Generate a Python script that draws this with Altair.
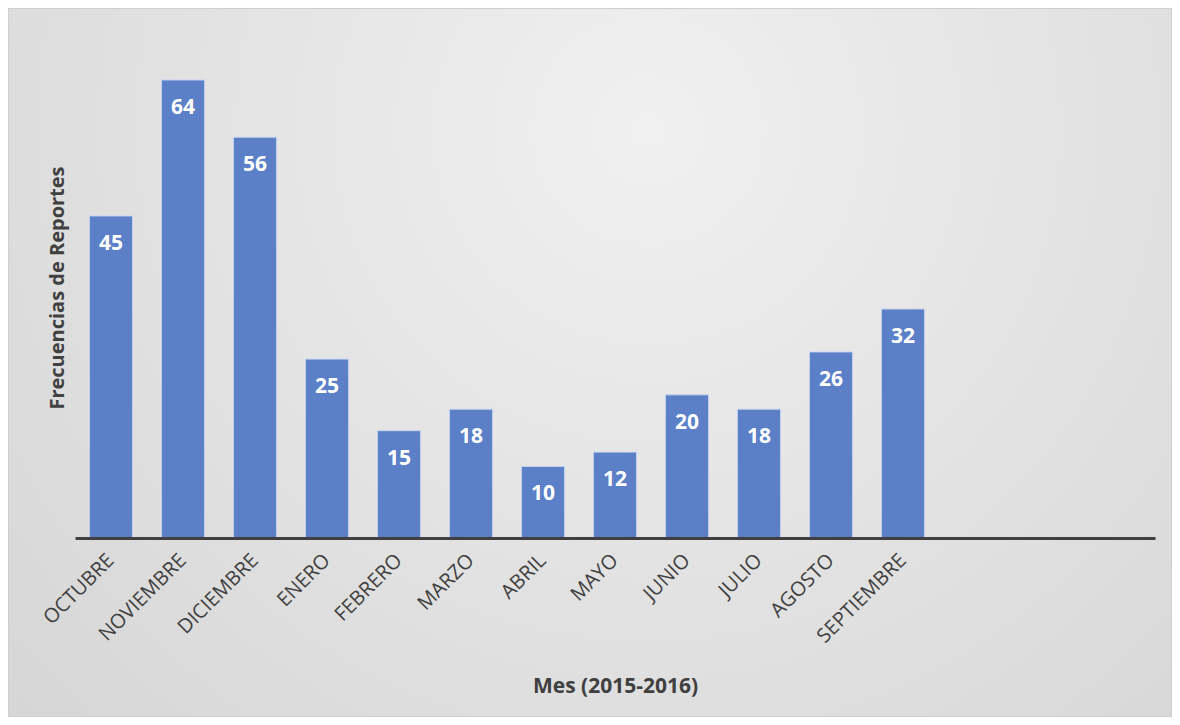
import altair as alt
import pandas as pd

months = ["OCTUBRE", "NOVIEMBRE", "DICIEMBRE", "ENERO", "FEBRERO", "MARZO",
          "ABRIL", "MAYO", "JUNIO", "JULIO", "AGOSTO", "SEPTIEMBRE"]
values = [45, 64, 56, 25, 15, 18, 10, 12, 20, 18, 26, 32]
empty_slots = [" ", "  ", "   "]

df = pd.DataFrame({"mes": months, "freq": values})
domain = months + empty_slots

W, H = 1080, 501
PAD = {"left": 67, "top": 29, "right": 17, "bottom": 179}
FONT = "Open Sans"
TXT = "#404040"

bg = alt.Chart(alt.Data(values=[{"a": 1}])).mark_rect(
    clip=False,
    fill=alt.RadialGradient(
        gradient="radial",
        x1=0.55, y1=0.3, x2=0.55, y2=0.3, r1=0, r2=0.85,
        stops=[alt.GradientStop(offset=0, color="#f0f0f0"),
               alt.GradientStop(offset=1, color="#d2d2d2")],
    ),
    stroke="#cfcfcf", strokeWidth=1,
).encode(
    x=alt.value(-PAD["left"] + 0.5), x2=alt.value(W + PAD["right"] - 0.5),
    y=alt.value(-PAD["top"] + 0.5), y2=alt.value(H + PAD["bottom"] - 0.5),
)

x_enc = alt.X(
    "mes:N", sort=domain,
    scale=alt.Scale(domain=domain, paddingInner=0.4, paddingOuter=0.2),
    axis=alt.Axis(
        title="Mes (2015-2016)", titleFont=FONT, titleFontSize=21, titleFontWeight="bold",
        titleColor=TXT, titleY=148, titleBaseline="middle",
        labelAngle=-45, labelAlign="right", labelBaseline="middle", labelPadding=19,
        labelFont=FONT, labelFontSize=20, labelColor=TXT,
        ticks=False, domainColor="#404040", domainWidth=3, grid=False, zindex=1,
    ),
)
y_enc = alt.Y(
    "freq:Q", scale=alt.Scale(domain=[0, 70], nice=False),
    axis=alt.Axis(
        title="Frecuencias de Reportes", titleFont=FONT, titleFontSize=20,
        titleFontWeight="bold", titleColor=TXT, titleX=-18, titleY=H / 2,
        titleAngle=-90, titleAlign="center", titleBaseline="middle",
        labels=False, ticks=False, domain=False, grid=False, zindex=1,
    ),
)

bars = alt.Chart(df).mark_bar(color="#5b80c8", stroke="#c9d5ee", strokeWidth=1).encode(
    x=x_enc, y=y_enc
)
labels = alt.Chart(df).mark_text(
    color="white", font=FONT, fontSize=21, fontWeight="bold", baseline="middle", dy=28
).encode(x=alt.X("mes:N", sort=domain), y="freq:Q", text="freq:Q")

chart = alt.layer(bg, bars, labels).properties(
    width=W, height=H,
    autosize=alt.AutoSizeParams(type="none"),
    padding=PAD,
    background="#d6d6d6",
).configure_view(stroke=None)

chart.save("out.html", embed_options={"renderer": "svg", "actions": False})
